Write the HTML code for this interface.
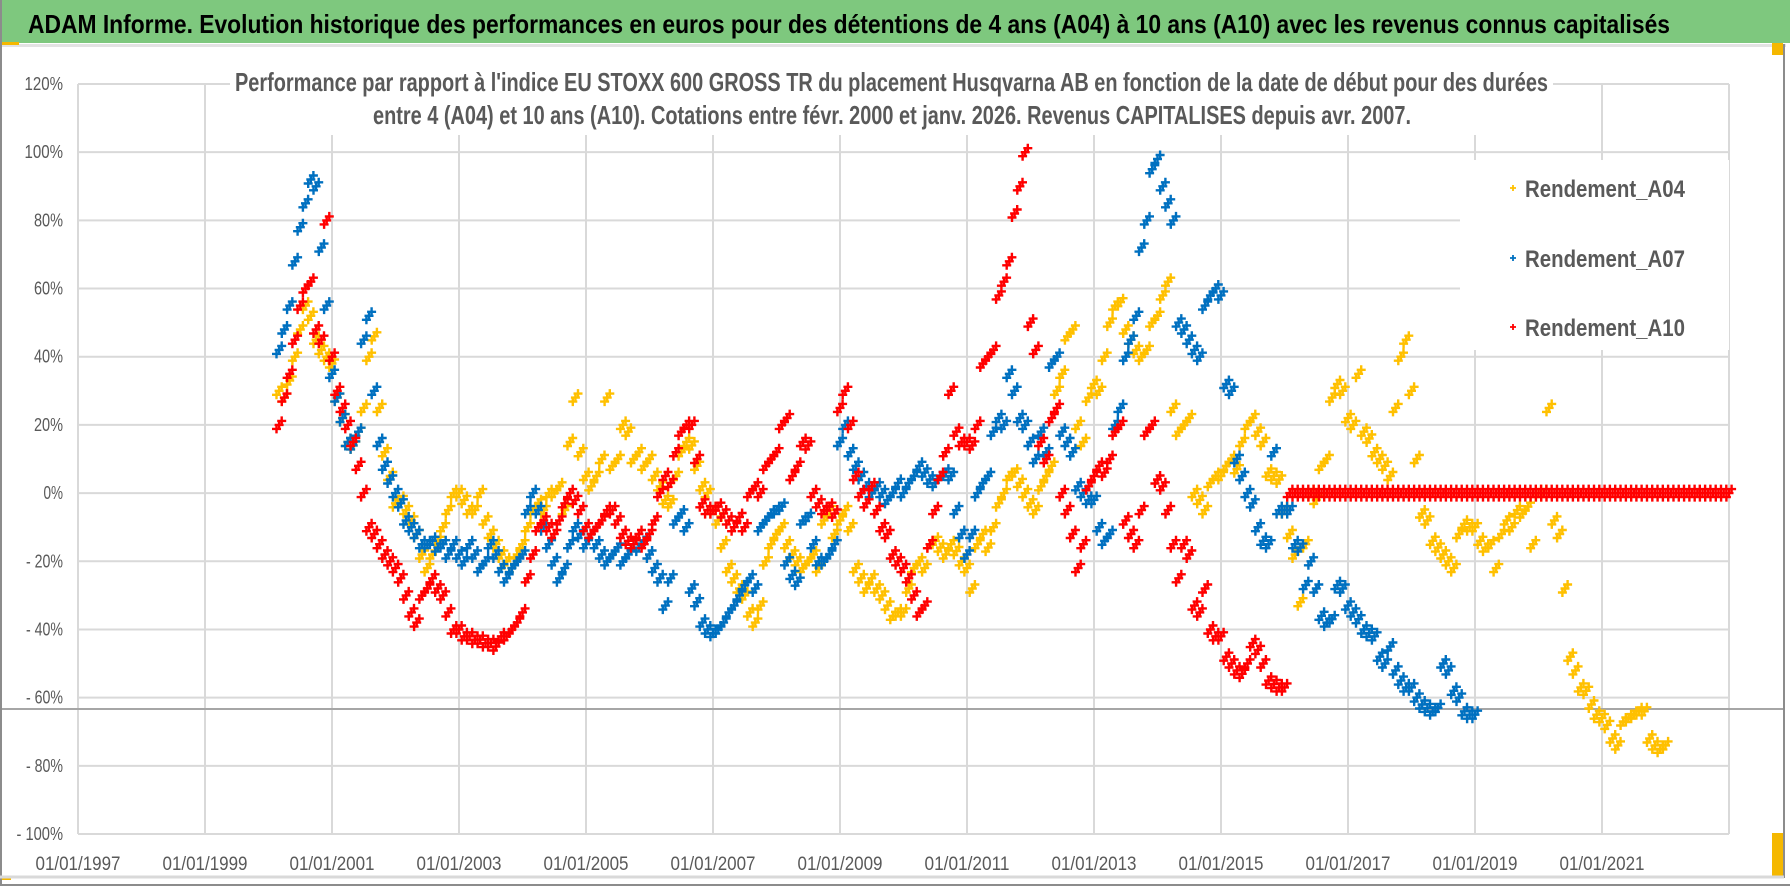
<!DOCTYPE html>
<html>
<head>
<meta charset="utf-8">
<style>
  html,body{margin:0;padding:0;background:#fff;}
  body{width:1790px;height:886px;overflow:hidden;}
  svg text{font-family:"Liberation Sans Narrow","Liberation Sans",sans-serif;}
</style>
</head>
<body>
<svg id="chart" width="1790" height="886" viewBox="0 0 1790 886" xmlns="http://www.w3.org/2000/svg">
  <rect x="0" y="0" width="1790" height="886" fill="#ffffff"/>
  <rect x="0" y="0" width="1790" height="43" fill="#7ec87e"/>
  <text x="28" y="33" font-size="26" font-weight="bold" fill="#000" textLength="1642" lengthAdjust="spacingAndGlyphs">ADAM Informe. Evolution historique des performances en euros pour des détentions de 4 ans (A04) à 10 ans (A10) avec les revenus connus capitalisés</text>
  <rect x="0" y="44" width="1786" height="3" fill="#e3e3e3"/>
  <rect x="0" y="42" width="19" height="3" fill="#f5b800"/>
  <rect x="1772" y="43" width="11" height="12" fill="#f5b800"/>
  <rect x="1772" y="833" width="11" height="45" fill="#f5b800"/>
  <rect x="0" y="876" width="11" height="4" fill="#f5b800"/>
  <line x1="1" y1="0" x2="1" y2="886" stroke="#8c8c8c" stroke-width="2"/>
  <line x1="1784" y1="44" x2="1784" y2="878" stroke="#8c8c8c" stroke-width="2"/>
  <line x1="0" y1="877" x2="1784" y2="877" stroke="#d9d9d9" stroke-width="3"/>
  <line x1="0" y1="885" x2="1790" y2="885" stroke="#8c8c8c" stroke-width="2"/>
  <g id="grid"></g>
  <g id="ylabels"></g>
  <g id="xlabels"></g>
  <line x1="2" y1="709" x2="1783" y2="709" stroke="#a6a6a6" stroke-width="2"/>
  <rect x="230" y="60" width="1323" height="75" fill="#ffffff"/>
  <text x="235" y="91" font-size="26" font-weight="bold" fill="#595959" textLength="1313" lengthAdjust="spacingAndGlyphs">Performance par rapport à l'indice EU STOXX 600 GROSS TR  du placement Husqvarna AB en fonction de la date de début pour des durées</text>
  <text x="373" y="124" font-size="26" font-weight="bold" fill="#595959" textLength="1038" lengthAdjust="spacingAndGlyphs">entre 4 (A04) et 10 ans (A10).  Cotations entre févr. 2000 et janv. 2026. Revenus CAPITALISES depuis avr. 2007.</text>
  <rect x="1460" y="160" width="269" height="190" fill="#ffffff"/>
  <g id="series"></g>
  <g id="legend"></g>
</svg>
<script>
// ---------- data (monthly values, %, starting March 2000) ----------
const startYear = 2000 + 2/12;
const seriesNames = ["Rendement_A04", "Rendement_A07", "Rendement_A10"];
const seriesColors = ["#ffc000", "#0070c0", "#ff0000"];
const yTicks = [120, 100, 80, 60, 40, 20, 0, -20, -40, -60, -80, -100];
const yTickLabels = ["120%", "100%", "80%", "60%", "40%", "20%", "0%", "- 20%", "- 40%", "- 60%", "- 80%", "- 100%"];
const xTickYears = [1997, 1999, 2001, 2003, 2005, 2007, 2009, 2011, 2013, 2015, 2017, 2019, 2021];
const xTickLabels = ["01/01/1997","01/01/1999","01/01/2001","01/01/2003","01/01/2005","01/01/2007","01/01/2009","01/01/2011","01/01/2013","01/01/2015","01/01/2017","01/01/2019","01/01/2021"];

const a04 = [
  30,28,33,40,48,55,52,45,42,40,
  38,28,22,15,14,18,25,40,46,25,12,5,
  -3,-2,-5,-8,-12,-18,-22,-18,-14,-10,-5,0,
  0,-2,-5,-5,0,-8,-12,-15,-18,-20,-22,-18,
  -15,-10,-5,-3,-5,0,0,2,-5,15,28,12,
  5,2,5,10,28,8,10,20,18,10,12,8,
  10,5,2,-2,-3,5,12,15,14,8,2,0,
  -5,-8,-15,-22,-25,-28,-30,-35,-38,-33,-20,-15,
  -12,-10,-15,-18,-20,-22,-20,-18,-22,-8,-5,-12,
  -8,-5,-10,-22,-25,-28,-25,-28,-30,-33,-36,-35,
  -35,-28,-22,-20,-22,-15,-14,-16,-18,-15,-17,-20,
  -22,-28,-15,-12,-16,-10,-3,0,5,6,3,0,
  -3,-5,2,5,8,30,35,46,48,20,15,28,
  32,30,40,50,55,56,48,45,42,40,42,50,
  52,58,62,25,18,20,22,0,-2,-5,3,5,
  5,8,10,7,15,20,22,18,15,6,5,4,
  -5,-12,-18,-32,-15,0,-2,8,10,28,32,30,
  22,20,35,18,16,12,10,8,5,25,40,45,
  30,10,-6,-8,-14,-16,-18,-20,-22,-12,-9,-10,
  -10,-14,-16,-15,-22,-12,-8,-10,-5,-6,-4,-15,
  0,0,25,-8,-12,-28,-48,-52,-57,-58,-62,-65,
  -66,-68,-72,-74,-67,-66,-65,-64,-64,-72,-74,-75,
  -74
];
const a07 = [
  42,48,55,68,78,85,92,90,72,55,
  35,28,22,15,14,18,45,52,30,15,8,4,
  0,-3,-8,-10,-12,-15,-15,-14,-16,-15,-18,-15,
  -18,-20,-15,-18,-22,-20,-15,-18,-22,-25,-22,-20,
  -18,-5,0,-5,-10,-15,-20,-25,-22,-15,-10,-12,
  -15,-12,-15,-18,-20,-18,-16,-20,-18,-15,-16,-14,
  -18,-22,-25,-33,-25,-8,-6,-10,-28,-32,-38,-40,
  -41,-40,-38,-35,-33,-30,-27,-25,-28,-10,-8,-6,
  -5,-4,-20,-24,-26,-8,-7,-15,-20,-20,-18,-15,
  15,20,12,8,5,2,0,2,0,-2,0,3,
  0,3,5,8,6,4,3,5,6,5,-5,-12,
  -18,-12,0,3,5,18,22,20,35,30,22,20,
  15,10,18,12,38,40,18,15,12,2,0,-2,
  -2,-10,-14,-12,20,25,40,45,52,72,80,95,
  98,90,85,80,50,48,45,42,40,55,58,60,
  58,32,30,10,5,0,-3,-10,-14,-15,12,-5,
  -5,-5,-15,-16,-27,-20,-28,-36,-38,-37,-27,-28,
  -33,-35,-37,-40,-41,-42,-48,-50,-45,-52,-55,-57,
  -57,-60,-62,-63,-64,-63,-50,-52,-58,-60,-64,-65,
  -65
];
const a10 = [
  20,28,35,45,55,60,62,48,45,80,
  40,30,25,20,15,8,0,-10,-12,-15,-18,-20,
  -22,-25,-30,-35,-38,-30,-28,-25,-28,-30,-35,-40,
  -40,-42,-42,-43,-43,-44,-44,-45,-42,-42,-40,-38,
  -35,-25,-18,-10,-8,-10,-12,-8,-3,0,-2,-5,
  -10,-12,-10,-8,-5,-5,-8,-12,-14,-15,-12,-15,
  -12,-8,0,5,3,12,18,20,20,10,-3,-5,
  -5,-4,-6,-8,-10,-7,-10,0,2,0,8,10,
  12,20,22,5,8,15,14,0,-3,-5,-4,-6,
  25,30,20,5,0,-3,2,-5,-10,-12,-18,-20,
  -22,-25,-30,-35,-33,-15,-5,5,12,30,18,15,
  15,14,20,38,40,42,58,62,68,82,90,100,
  50,42,15,10,22,25,0,-5,-12,-22,-15,2,
  5,8,6,10,18,20,-8,-12,-15,-5,18,20,
  4,2,-5,-15,-25,-15,-18,-33,-35,-28,-40,-42,
  -42,-48,-50,-52,-53,-50,-44,-46,-50,-55,-56,-57,
  -57,0,0,0,0,0,0,0,0,0,0,0,
  0,0,0,0,0,0,0,0,0,0,0,0,
  0,0,0,0,0,0,0,0,0,0,0,0,
  0,0,0,0,0,0,0,0,0,0,0,0,
  0,0,0,0,0,0,0,0,0,0,0,0,
  0,0,0,0,0,0,0,0,0,0,0,0,
  0,0,0,0,0,0,0,0,0,0,0,0,
  0
];
const seriesValues = [a04, a07, a10];

// ---------- axis functions ----------
const X0 = 78, PX_PER_YEAR = 63.5, Y_TOP = 84, Y_BOTTOM = 834, V_MAX = 120, V_MIN = -100, X_RIGHT = 1729;
function xOf(year){ return X0 + (year - 1997) * PX_PER_YEAR; }
function yOf(v){ return Y_TOP + (V_MAX - v) * (Y_BOTTOM - Y_TOP) / (V_MAX - V_MIN); }

const NS = "http://www.w3.org/2000/svg";
function mk(tag, attrs){ const e = document.createElementNS(NS, tag); for (const k in attrs) e.setAttribute(k, attrs[k]); return e; }

// gridlines
const grid = document.getElementById("grid");
yTicks.forEach(function(v){
  const l = mk("line", {x1: X0, x2: X_RIGHT, y1: yOf(v), y2: yOf(v), stroke: "#d9d9d9", "stroke-width": 2});
  
  
  grid.appendChild(l);
});
for (let yr = 1997; yr <= 2023; yr += 2) {
  const l = mk("line", {x1: xOf(yr), x2: xOf(yr), y1: Y_TOP, y2: Y_BOTTOM, stroke: "#d9d9d9", "stroke-width": 2});
  
  
  grid.appendChild(l);
}

// y labels
const yl = document.getElementById("ylabels");
yTicks.forEach(function(v, i){
  const s = yTickLabels[i];
  const digits = s.replace(/[^0-9]/g, "").length;
  const len = digits * 9.5 + 10 + (s.indexOf("-") >= 0 ? 8 : 0);
  const t = mk("text", {x: 63, y: yOf(v) + 6, "font-size": 18, fill: "#595959", "text-anchor": "end", textLength: len, lengthAdjust: "spacingAndGlyphs"});
  t.textContent = s;
  
  
  yl.appendChild(t);
});

// x labels
const xl = document.getElementById("xlabels");
xTickYears.forEach(function(yr, i){
  const t = mk("text", {x: xOf(yr), y: 870, "font-size": 19, fill: "#595959", "text-anchor": "middle", textLength: 85, lengthAdjust: "spacingAndGlyphs"});
  t.textContent = xTickLabels[i];
  
  
  xl.appendChild(t);
});

// series markers: each monthly value drawn as a small cluster of crosses (visual density of daily points)
const clusterDx = [0, 2.6, -2.6];
const clusterDy = [0, -4, 4];
const sg = document.getElementById("series");
seriesValues.forEach(function(vals, si){
  const g = mk("g", {stroke: seriesColors[si], "stroke-width": 2.4, fill: "none"});
  
  
  let d = "";
  vals.forEach(function(v, i){
    const xc = xOf(startYear + i / 12), yc = yOf(v);
    for (let k = 0; k < clusterDx.length; k++) {
      const x = xc + clusterDx[k], y = yc + clusterDy[k];
      d += "M" + (x - 4.5).toFixed(1) + " " + y.toFixed(1) + "h9M" + x.toFixed(1) + " " + (y - 4.5).toFixed(1) + "v9";
    }
  });
  const p = mk("path", {d: d});
  
  
  g.appendChild(p);
  sg.appendChild(g);
});

// legend
const lg = document.getElementById("legend");
const legendY = [188, 258, 327];
seriesNames.forEach(function(n, i){
  const m = mk("path", {d: "M1510 " + legendY[i] + "h6M1513 " + (legendY[i] - 3) + "v6", stroke: seriesColors[i], "stroke-width": 1.8});
  
  
  lg.appendChild(m);
  const t = mk("text", {x: 1525, y: legendY[i] + 9, "font-size": 24, "font-weight": "bold", fill: "#595959", textLength: 160, lengthAdjust: "spacingAndGlyphs"});
  t.textContent = n;
  
  
  lg.appendChild(t);
});
</script>
</body>
</html>
